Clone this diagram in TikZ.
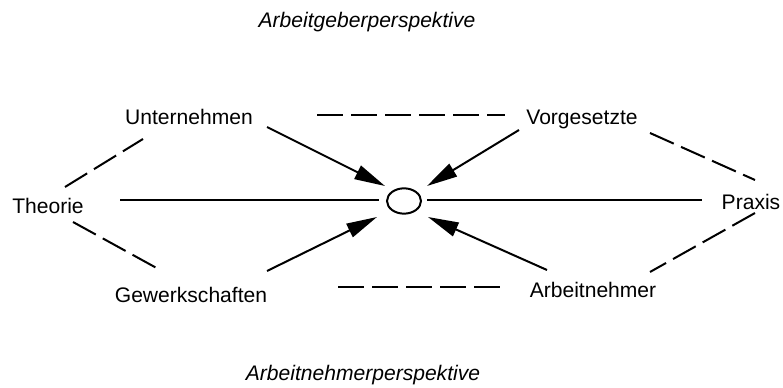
\documentclass[tikz,border=0pt]{standalone}
\usepackage{fontspec}
\setmainfont{Liberation Sans}
\usepackage{tikz}
\usetikzlibrary{arrows.meta}
\usetikzlibrary{shapes.geometric}

\begin{document}
\begin{tikzpicture}[x=0.75pt,y=-0.75pt,
    font=\fontsize{15.8}{19}\selectfont,
    begriff/.style={anchor=base,inner sep=0pt},
    kopf/.style={anchor=base,inner sep=0pt,font=\fontsize{15.8}{19}\selectfont\itshape},
    linie/.style={line width=1.5pt},
    strich/.style={line width=1.5pt,dash pattern=on 19.5pt off 6pt},
    pfeil/.style={line width=1.5pt,-{Triangle[length=23pt,width=11pt]}}]
    \useasboundingbox (0,0) rectangle (783,388);
    % Ueberschriften
    \node[kopf] (oben) at (367,28) {Arbeitgeberperspektive};
    \node[kopf] (unten) at (363,381) {Arbeitnehmerperspektive};
    % Begriffe
    \node[begriff] (theorie) at (48,214) {Theorie};
    \node[begriff] (praxis) at (751,210) {Praxis};
    \node[begriff] (unternehmen) at (189,125) {Unternehmen};
    \node[begriff] (vorgesetzte) at (582,125) {Vorgesetzte};
    \node[begriff] (gewerkschaften) at (191,303) {Gewerkschaften};
    \node[begriff] (arbeitnehmer) at (593,298) {Arbeitnehmer};
    \node[draw,ellipse,line width=1.5pt,inner sep=0pt,
      minimum width=25.5pt,minimum height=19pt] (kreis) at (404,201) {};
    % Achse
    \draw[linie] ([shift={(72,-14)}]theorie.base) -- ([shift={(-25,-1)}]kreis.center);
    \draw[linie] ([shift={(23,-1)}]kreis.center) -- ([shift={(-49,-10)}]praxis.base);
    % Pfeile zur Mitte
    \draw[pfeil] ([shift={(78,2)}]unternehmen.base) -- ([shift={(-19,-15)}]kreis.center);
    \draw[pfeil] ([shift={(-63,5)}]vorgesetzte.base) -- ([shift={(23,-15)}]kreis.center);
    \draw[pfeil] ([shift={(76,-32)}]gewerkschaften.base) -- ([shift={(-27,16)}]kreis.center);
    \draw[pfeil] ([shift={(-46,-28)}]arbeitnehmer.base) -- ([shift={(24,16)}]kreis.center);
    % gestrichelte Verbindungen
    \draw[strich] ([shift={(128,-10)}]unternehmen.base) -- ([shift={(-77,-10)}]vorgesetzte.base);
    \draw[strich] ([shift={(147,-16)}]gewerkschaften.base) -- ([shift={(-93,-11)}]arbeitnehmer.base);
    \draw[strich] ([shift={(17,-27)}]theorie.base) -- ([shift={(-46,14)}]unternehmen.base);
    \draw[strich] ([shift={(25,8)}]theorie.base) -- ([shift={(-29,-32)}]gewerkschaften.base);
    \draw[strich] ([shift={(68,8)}]vorgesetzte.base) -- ([shift={(4,-30)}]praxis.base);
    \draw[strich] ([shift={(4,3)}]praxis.base) -- ([shift={(57,-26)}]arbeitnehmer.base);
\end{tikzpicture}
\end{document}
